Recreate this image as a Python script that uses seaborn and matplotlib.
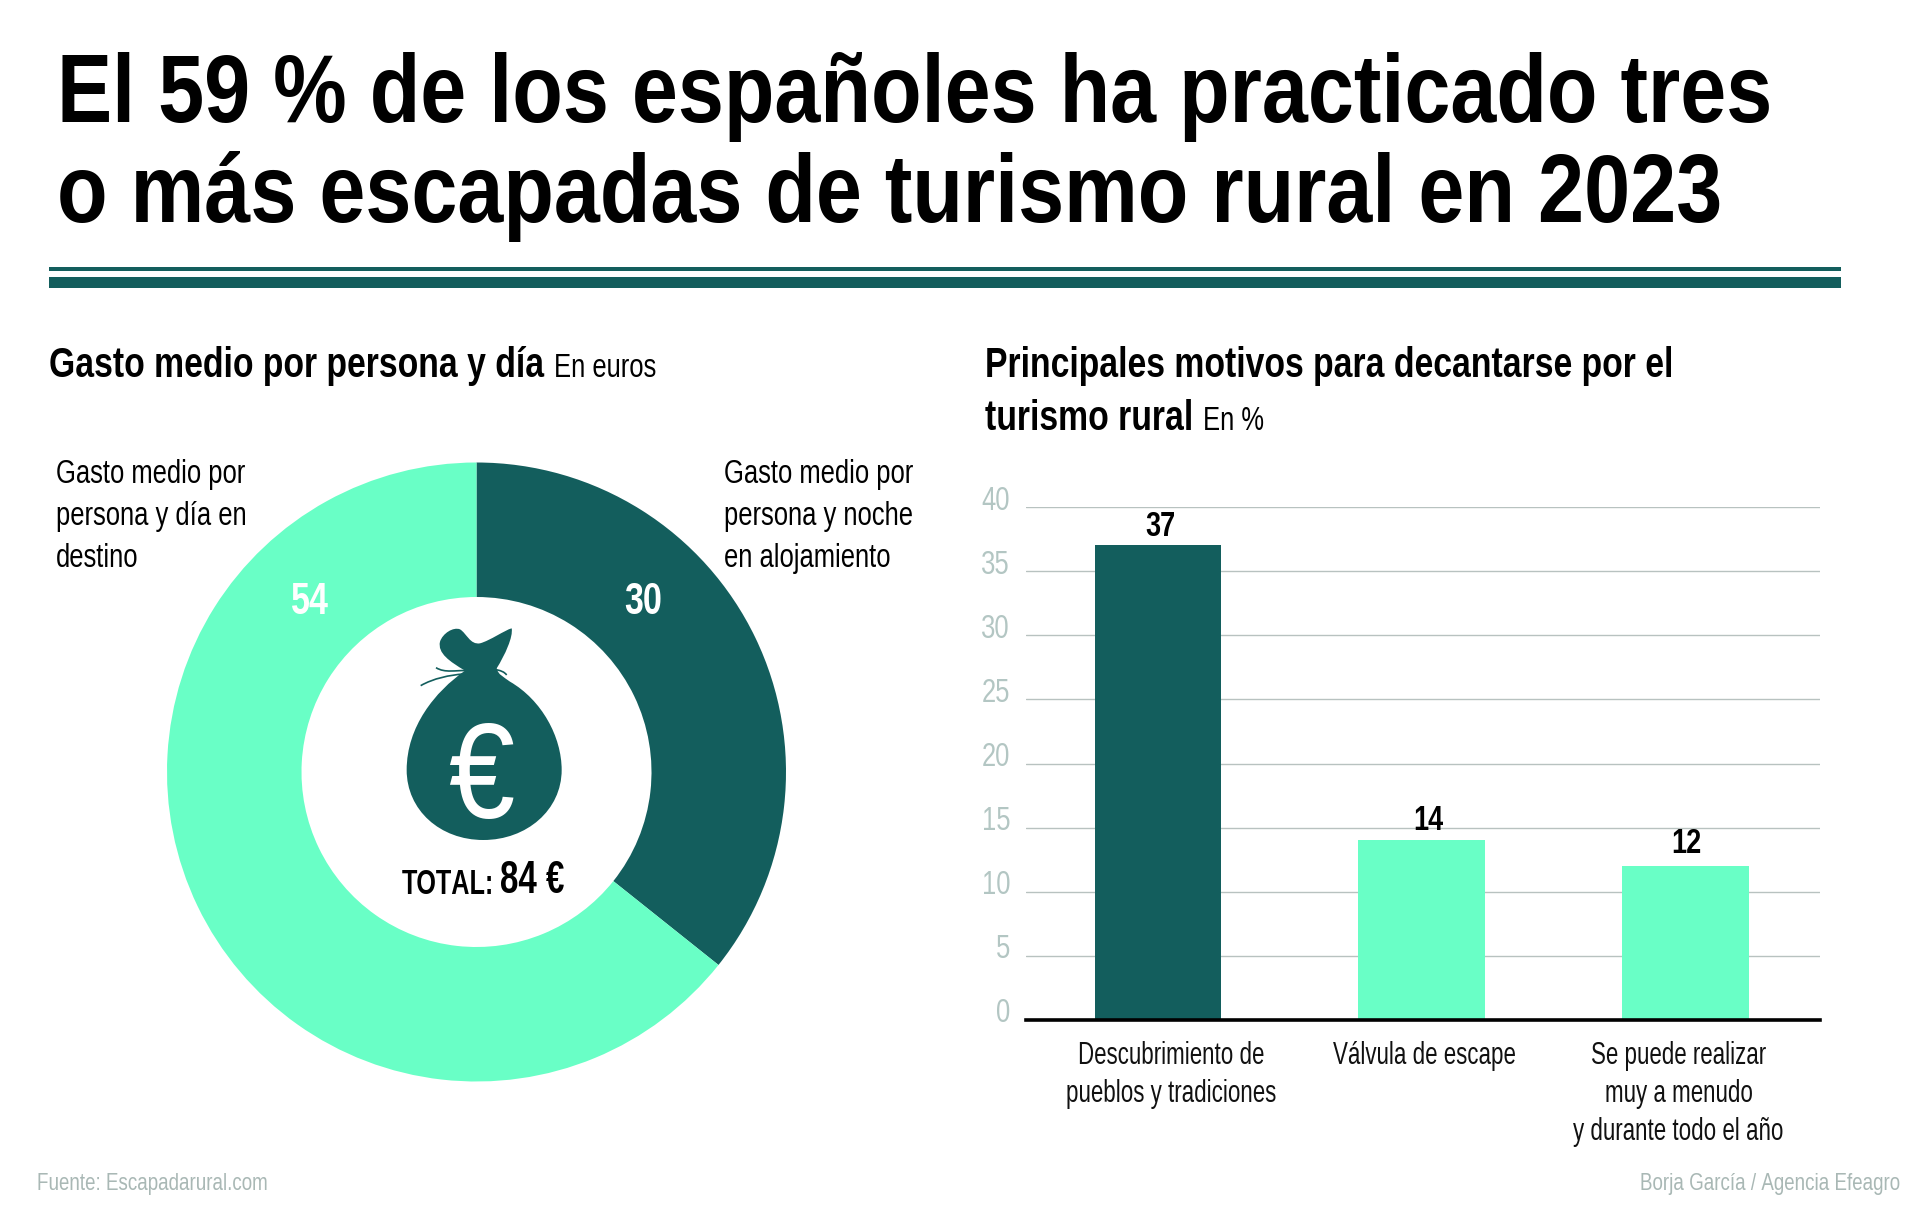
import matplotlib
matplotlib.use("Agg")
import matplotlib.pyplot as plt
import seaborn as sns
import pandas as pd
from matplotlib import font_manager as fm
from matplotlib.path import Path
from matplotlib.patches import PathPatch, Rectangle
from matplotlib.transforms import ScaledTranslation

title_lines = ["El 59 % de los españoles ha practicado tres", "o más escapadas de turismo rural en 2023"]
donut_labels = ["Gasto medio por\npersona y noche\nen alojamiento", "Gasto medio por\npersona y día en\ndestino"]
donut_values = [30, 54]
bar_categories = ["Descubrimiento de\npueblos y tradiciones", "Válvula de escape", "Se puede realizar\nmuy a menudo\ny durante todo el año"]
bar_values = [37, 14, 12]
y_ticks = [0, 5, 10, 15, 20, 25, 30, 35, 40]

DARK = "#135e5d"
LIGHT = "#69ffc6"
GRID = "#b8c2c0"
TICK = "#b3c6c3"
SRC = "#a9b8b5"
W, H = 1920, 1207


def condensed_font(weight, sx, family, fname):
    """Build a horizontally condensed copy of Liberation Sans so text stays real text."""
    from fontTools.ttLib import TTFont
    src = fm.findfont(fm.FontProperties(family="Liberation Sans", weight=weight))
    f = TTFont(src)
    glyf = f["glyf"]
    for gn in glyf.keys():
        g = glyf[gn]
        if g.isComposite():
            for c in g.components:
                if hasattr(c, "x"):
                    c.x = round(c.x * sx)
        elif g.numberOfContours > 0:
            g.coordinates.scale((sx, 1))
            g.coordinates.toInt()
        if g.numberOfContours != 0:
            g.removeHinting()
    hmtx = f["hmtx"]
    for gn, (adv, lsb) in list(hmtx.metrics.items()):
        hmtx.metrics[gn] = (round(adv * sx), round(lsb * sx))
    for tag in ("fpgm", "prep", "cvt ", "kern", "GPOS", "GSUB", "GDEF", "hdmx", "VDMX", "LTSH", "DSIG", "gasp"):
        if tag in f:
            del f[tag]
    style = "Bold" if weight == "bold" else "Regular"
    for rec in f["name"].names:
        if rec.nameID in (1, 16):
            rec.string = family
        elif rec.nameID == 4:
            rec.string = f"{family} {style}"
        elif rec.nameID == 6:
            rec.string = f"{family.replace(' ', '')}-{style}"
    f.save(fname)
    fm.fontManager.addfont(fname)


BASE = ["Liberation Sans", "DejaVu Sans"]
NARROW = TITLE = LABEL = EURO = BASE
try:
    condensed_font("normal", 0.775, "Efe Narrow", "efe_narrow.ttf")
    condensed_font("bold", 0.775, "Efe Narrow", "efe_narrow_bold.ttf")
    condensed_font("normal", 0.72, "Efe Label", "efe_label.ttf")
    condensed_font("bold", 0.72, "Efe Label", "efe_label_bold.ttf")
    condensed_font("bold", 0.862, "Efe Title", "efe_title_bold.ttf")
    condensed_font("normal", 0.88, "Efe Euro", "efe_euro.ttf")
    NARROW = ["Efe Narrow"] + BASE
    LABEL = ["Efe Label"] + BASE
    TITLE = ["Efe Title"] + BASE
    EURO = ["Efe Euro"] + BASE
except Exception as exc:
    print("condensed fonts unavailable:", exc)

sns.set_theme(style="white")
plt.rcParams["font.family"] = NARROW
fig = plt.figure(figsize=(W / 100, H / 100), dpi=100, facecolor="white")


def rect(l, t, r, b):
    return [l / W, 1 - b / H, (r - l) / W, (b - t) / H]


def pt(px):
    return px * 0.72


# overlay in pixel coordinates for text and decoration
ov = fig.add_axes([0, 0, 1, 1], zorder=5)
ov.set_xlim(0, W); ov.set_ylim(H, 0); ov.axis("off"); ov.patch.set_alpha(0)


def T(x, y, s, size, color="black", weight="normal", ha="left", va="baseline", family=None, **kw):
    return ov.text(x, y, s, fontsize=pt(size), color=color, fontweight=weight, ha=ha, va=va,
                   family=family or NARROW, **kw)


# title
T(57, 122, title_lines[0], 96, weight="bold", family=TITLE)
T(57, 222, title_lines[1], 96, weight="bold", family=TITLE)
ov.add_patch(Rectangle((49, 267), 1792, 4, color=DARK, lw=0))
ov.add_patch(Rectangle((49, 277), 1792, 11, color=DARK, lw=0))

# section headers
T(49, 377, "Gasto medio por persona y día", 43.5, weight="bold")
T(554, 377, "En euros", 33)
T(985, 377, "Principales motivos para decantarse por el", 43.5, weight="bold")
T(985, 430, "turismo rural", 43.5, weight="bold")
T(1203, 430, "En %", 33)

# donut
R, RI, CX, CY = 309.5, 175, 476.5, 772
pax = fig.add_axes(rect(CX - R, CY - R, CX + R, CY + R))
pax.pie(donut_values, colors=[DARK, LIGHT], startangle=90, counterclock=False, radius=1,
        wedgeprops=dict(width=1 - RI / R, linewidth=0))
pax.set_xlim(-1, 1); pax.set_ylim(-1, 1); pax.set_aspect("equal")
for x, s in [(724, donut_labels[0]), (56, donut_labels[1])]:
    for i, line in enumerate(s.split("\n")):
        T(x, 483 + i * 42, line, 33)
T(310, 614, str(donut_values[1]), 44, color="white", weight="bold", ha="center")
T(643, 614, str(donut_values[0]), 44, color="white", weight="bold", ha="center")


# money bag (decoration)
def z(x, y):
    return (350 + x / 3, 600 + y / 3)


verts = [z(345, 212),
         z(300, 185), z(262, 160), z(270, 125),
         z(278, 100), z(310, 80), z(330, 88),
         z(350, 100), z(360, 135), z(390, 130),
         z(420, 122), z(465, 90), z(485, 85),
         z(490, 110), z(465, 165), z(440, 205),
         z(445, 225), z(460, 230), z(480, 245),
         z(575, 300), z(635, 410), z(635, 510),
         z(635, 630), z(530, 720), z(400, 720),
         z(270, 720), z(170, 630), z(170, 510),
         z(170, 380), z(255, 275), z(345, 212)]
codes = [Path.MOVETO] + [Path.CURVE4] * (len(verts) - 1)
ov.add_patch(PathPatch(Path(verts, codes), fc=DARK, ec="none"))
for pts in ([z(212, 257), z(250, 235), z(300, 225), z(340, 222)],
            [z(258, 203), z(285, 220), z(320, 210), z(345, 212)],
            [z(435, 200), z(430, 215), z(455, 205), z(470, 225)]):
    ov.add_patch(PathPatch(Path(pts, [Path.MOVETO, Path.CURVE4, Path.CURVE4, Path.CURVE4]),
                           fc="none", ec=DARK, lw=1.2))
T(481, 818, "€", 135, color="white", ha="center", family=EURO)
T(402, 894, "TOTAL:", 35, weight="bold", family=LABEL)
T(500, 893, "84 €", 46, weight="bold", family=LABEL)

# bar chart
df = pd.DataFrame({"cat": bar_categories, "val": bar_values})
ax = fig.add_axes(rect(1026, 507, 1820, 1020))
sns.barplot(data=df, x="cat", y="val", hue="cat", dodge=False, legend=False, ax=ax, width=0.48,
            palette=[DARK, LIGHT, LIGHT], linewidth=0, saturation=1, zorder=3)
ax.set_xlim(-0.5, 2.51); ax.set_ylim(0, 40)
ax.set_xlabel(""); ax.set_ylabel("")
ax.set_yticks(y_ticks)
ax.grid(axis="y", color=GRID, lw=1.0, zorder=0)
ax.set_axisbelow(True)
for s in ("top", "right", "left"):
    ax.spines[s].set_visible(False)
ax.spines["bottom"].set_color("black"); ax.spines["bottom"].set_linewidth(2.6); ax.spines["bottom"].set_zorder(4)
ax.tick_params(axis="y", length=0, pad=11.5, labelsize=pt(33), labelcolor=TICK)
ax.tick_params(axis="x", length=0, labelbottom=False)
dpi_tr = fig.dpi_scale_trans
for lab in ax.get_yticklabels():
    lab.set_transform(lab.get_transform() + ScaledTranslation(0, 9.5 / 100, dpi_tr))
tick_dx = [13, 3, -7]
val_dx = [3, 7, 1]
val_dy = [9, 10, 13]
for i, (c, v) in enumerate(zip(bar_categories, bar_values)):
    ax.text(i, 0, c, ha="center", va="top", fontsize=pt(31), color="#111111", linespacing=1.35,
            family=LABEL,
            transform=ax.get_xaxis_transform() + ScaledTranslation(tick_dx[i] / 100, -21 / 100, dpi_tr),
            clip_on=False)
    ax.text(i, v, str(v), ha="center", va="baseline", fontsize=pt(35), fontweight="bold", color="black",
            transform=ax.transData + ScaledTranslation(val_dx[i] / 100, val_dy[i] / 100, dpi_tr), zorder=6)

# footer
T(37, 1190, "Fuente: Escapadarural.com", 24.3, color=SRC)
T(1900, 1190, "Borja García / Agencia Efeagro", 24.3, color=SRC, ha="right")

fig.savefig("out.png", dpi=100, facecolor="white")
